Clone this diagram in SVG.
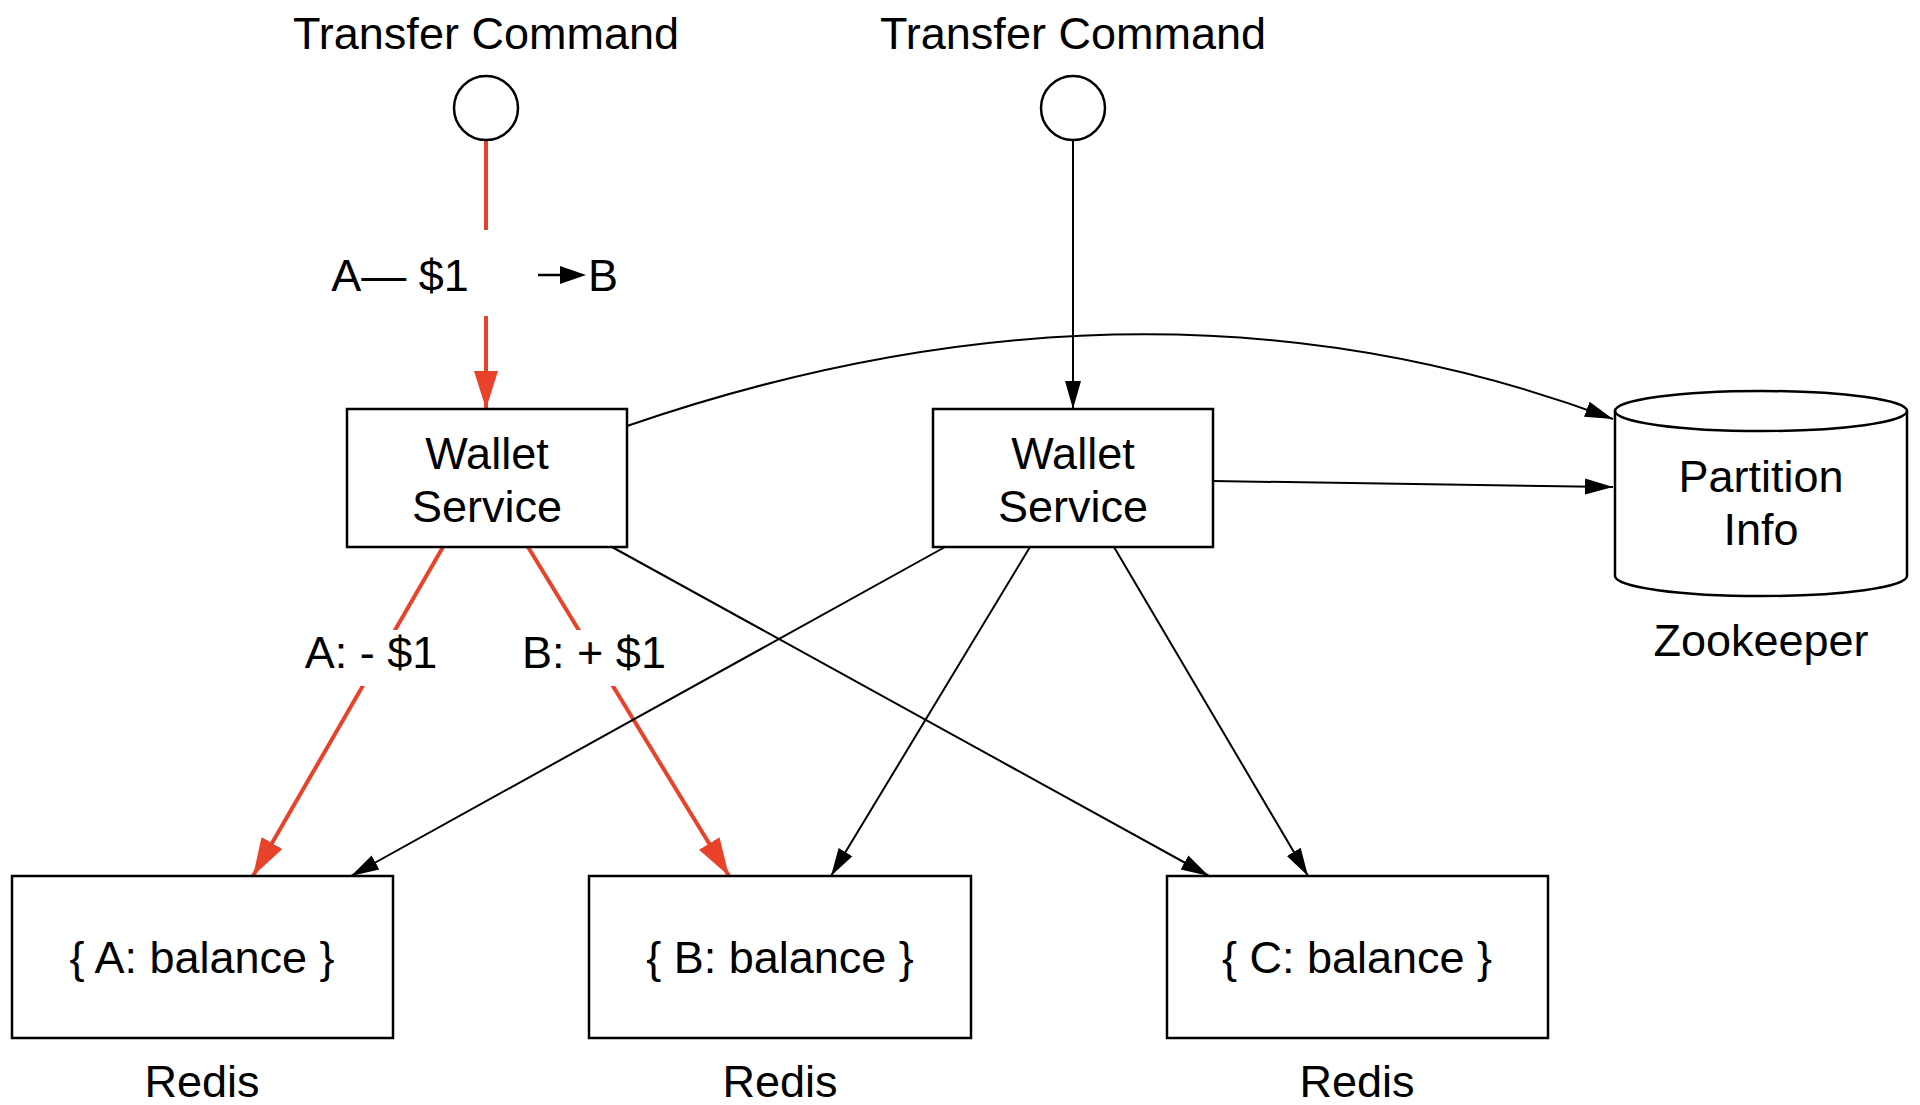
<svg xmlns="http://www.w3.org/2000/svg" width="1920" height="1105" viewBox="0 0 1920 1105">
<style>
.t{font-family:"Liberation Sans",Arial,sans-serif;font-size:45px;fill:#000;text-anchor:middle}
.b{fill:#fff;stroke:#000;stroke-width:2.5}
.k{stroke:#000;stroke-width:2;fill:none}
.r{stroke:#e8432a;stroke-width:4;fill:none}
</style>
<defs>
<marker id="ak" markerUnits="userSpaceOnUse" markerWidth="30" markerHeight="20" refX="28" refY="10" orient="auto"><path d="M0,2 L28,10 L0,18 Z" fill="#000"/></marker>
<marker id="ar" markerUnits="userSpaceOnUse" markerWidth="40" markerHeight="30" refX="38" refY="15" orient="auto"><path d="M0,3 L38,15 L0,27 Z" fill="#e8432a"/></marker>
</defs>
<rect width="1920" height="1105" fill="#fff"/>
<g id="connectors">
<line class="r" x1="486" y1="140" x2="486" y2="230"/>
<line class="r" x1="486" y1="316" x2="486" y2="409" marker-end="url(#ar)"/>
<line class="r" x1="443" y1="547" x2="253" y2="876" marker-end="url(#ar)"/>
<line class="r" x1="528" y1="547" x2="729" y2="876" marker-end="url(#ar)"/>
<line class="k" x1="1073" y1="140" x2="1073" y2="409" marker-end="url(#ak)"/>
<line class="k" x1="612" y1="547" x2="1209" y2="876" marker-end="url(#ak)"/>
<line class="k" x1="945" y1="547" x2="351" y2="876" marker-end="url(#ak)"/>
<line class="k" x1="1030" y1="547" x2="831" y2="876" marker-end="url(#ak)"/>
<line class="k" x1="1114" y1="547" x2="1308" y2="876" marker-end="url(#ak)"/>
<line class="k" x1="1213" y1="481" x2="1613" y2="487" marker-end="url(#ak)"/>
<path class="k" d="M627,426 Q1150,246 1613,419" marker-end="url(#ak)"/>
<rect x="290" y="630" width="160" height="56" fill="#fff"/>
<rect x="510" y="630" width="170" height="56" fill="#fff"/>
<text class="t" x="371" y="668">A: - $1</text>
<text class="t" x="594" y="668">B: + $1</text>
<g id="lbl-transfer">
<text class="t" x="400" y="291" text-anchor="middle">A— $1</text>
<line x1="538" y1="275" x2="565" y2="275" stroke="#000" stroke-width="2.5"/>
<path d="M560,266 L586,275 L560,284 Z" fill="#000"/>
<text class="t" x="588" y="291" style="text-anchor:start">B</text>
</g>
</g>
<g id="cmd1"><text class="t" x="486" y="49">Transfer Command</text><circle class="b" cx="486" cy="108" r="32"/></g>
<g id="cmd2"><text class="t" x="1073" y="49">Transfer Command</text><circle class="b" cx="1073" cy="108" r="32"/></g>
<g id="ws1"><rect class="b" x="347" y="409" width="280" height="138"/><text class="t" x="487" y="469">Wallet</text><text class="t" x="487" y="522">Service</text></g>
<g id="ws2"><rect class="b" x="933" y="409" width="280" height="138"/><text class="t" x="1073" y="469">Wallet</text><text class="t" x="1073" y="522">Service</text></g>
<g id="zk">
<path class="b" d="M1615,411 L1615,576 A146,20 0 0 0 1907,576 L1907,411 A146,20 0 0 0 1615,411 Z"/>
<path class="k" d="M1615,411 A146,20 0 0 0 1907,411" style="stroke-width:2.5"/>
<text class="t" x="1761" y="492">Partition</text><text class="t" x="1761" y="545">Info</text>
<text class="t" x="1761" y="656">Zookeeper</text>
</g>
<g id="redisA"><rect class="b" x="12" y="876" width="381" height="162"/><text class="t" x="202" y="973">{ A: balance }</text><text class="t" x="202" y="1097">Redis</text></g>
<g id="redisB"><rect class="b" x="589" y="876" width="382" height="162"/><text class="t" x="780" y="973">{ B: balance }</text><text class="t" x="780" y="1097">Redis</text></g>
<g id="redisC"><rect class="b" x="1167" y="876" width="381" height="162"/><text class="t" x="1357" y="973">{ C: balance }</text><text class="t" x="1357" y="1097">Redis</text></g>
</svg>
